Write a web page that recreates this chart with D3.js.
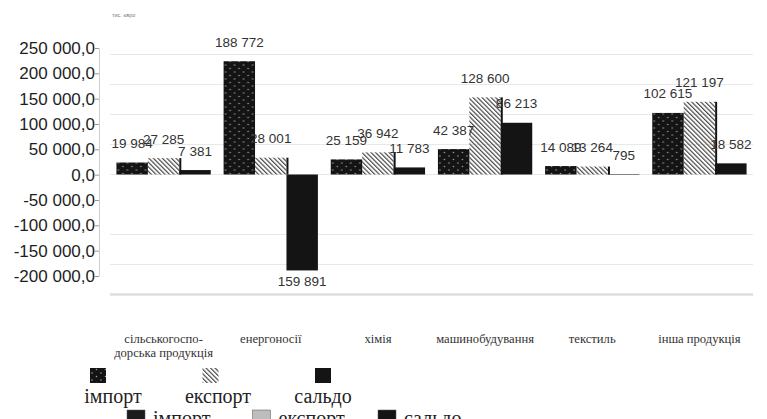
<!DOCTYPE html>
<html><head><meta charset="utf-8">
<script src="https://cdn.jsdelivr.net/npm/d3@7"></script>
<style>html,body{margin:0;padding:0;background:#fff;overflow:hidden}</style>
</head><body>
<svg id="c" width="767" height="419"></svg>
<script>
const categories = ["сільськогоспо-|дорська продукція","енергоносії","хімія","машинобудування","текстиль","інша продукція"];
const importVals = [19984, 188772, 25159, 42387, 14089, 102615];
const exportVals = [27285, 28001, 36942, 128600, 13264, 121197];
const saldoVals  = [7381, -159891, 11783, 86213, 795, 18582];
const seriesNames = ["імпорт","експорт","сальдо"];
const yTickVals = [250000,200000,150000,100000,50000,0,-50000,-100000,-150000,-200000];
const gridVals = [200000,150000,100000,50000,0,-100000,-150000,-200000];
const unitLabel = "тис. євро";

const svg = d3.select("#c");
const defs = svg.append("defs");
const pImp = defs.append("pattern").attr("id","pImp").attr("patternUnits","userSpaceOnUse").attr("width",9).attr("height",7);
pImp.append("rect").attr("width",9).attr("height",7).attr("fill","#141414");
pImp.append("circle").attr("cx",2).attr("cy",2).attr("r",0.8).attr("fill","#9a9a9a");
pImp.append("circle").attr("cx",6.5).attr("cy",5.5).attr("r",0.8).attr("fill","#9a9a9a");
const pExp = defs.append("pattern").attr("id","pExp").attr("patternUnits","userSpaceOnUse").attr("width",3.2).attr("height",3.2).attr("patternTransform","rotate(-45)");
pExp.append("rect").attr("width",1.2).attr("height",3.2).attr("fill","#4a4a4a");

const fills = ["url(#pImp)","url(#pExp)","#141414"];
const series = [importVals, exportVals, saldoVals];

// scales
const x0 = d3.scaleBand().domain(categories).range([110,753]).paddingInner(0.12).paddingOuter(0.06);
const x1 = d3.scaleBand().domain(seriesNames).range([0, x0.bandwidth()]);
const y = d3.scaleLinear().domain([-200000,200000]).range([294.5,54.5]);
const yLab = d3.scaleLinear().domain([-200000,250000]).range([276,48]);

// unit label
svg.append("text").attr("x",112).attr("y",17).attr("font-family","Liberation Sans").attr("font-size",5.5).attr("fill","#777").text(unitLabel);

// gridlines
svg.append("g").selectAll("line").data(gridVals).join("line")
  .attr("x1",110).attr("x2",753)
  .attr("y1",d=>y(d)).attr("y2",d=>y(d))
  .attr("stroke",d=>d===-200000?"#dedede":"#e8e8e8")
  .attr("stroke-width",d=>d===-200000?2.5:1);

// y axis (label scale)
const fmtAxis = v => (v<0?"-":"") + d3.format(",")(Math.abs(v)).replace(/,/g," ") + ",0";
const ax = svg.append("g").attr("transform","translate(99,0)")
  .call(d3.axisLeft(yLab).tickValues(yTickVals).tickFormat(fmtAxis).tickSize(4).tickSizeOuter(0));
ax.select(".domain").attr("stroke","#cfcfcf");
ax.selectAll(".tick line").attr("stroke","#999");
ax.selectAll(".tick text").attr("font-family","Liberation Sans").attr("font-size",17).attr("fill","#1e1e1e").attr("x",-4);

// bars
const fmtLab = v => d3.format(",")(Math.abs(v)).replace(/,/g," ");
const groups = svg.append("g").selectAll("g").data(categories).join("g")
  .attr("transform",d=>`translate(${x0(d)},0)`);
series.forEach((vals,si)=>{
  groups.append("rect")
    .attr("x",x1(seriesNames[si]))
    .attr("width",x1.bandwidth())
    .attr("y",(d,i)=>y(Math.max(0,vals[i])))
    .attr("height",(d,i)=>Math.abs(y(vals[i])-y(0)))
    .attr("fill",fills[si]);
});
// dark right edge of export bars
groups.append("line")
  .attr("x1",x1("сальдо")+1).attr("x2",x1("сальдо")+1)
  .attr("y1",y(0)).attr("y2",(d,i)=>y(exportVals[i]))
  .attr("stroke","#141414").attr("stroke-width",2);

// value labels
series.forEach((vals,si)=>{
  groups.append("text")
    .attr("x",x1(seriesNames[si])+x1.bandwidth()/2)
    .attr("y",(d,i)=>vals[i]>=0 ? y(vals[i])-14.5 : y(vals[i])+16)
    .attr("text-anchor","middle")
    .attr("font-family","Liberation Sans").attr("font-size",13.5).attr("fill","#333")
    .text((d,i)=>fmtLab(vals[i]));
});

// category labels
const cat = svg.append("g").selectAll("text").data(categories).join("text")
  .attr("x",d=>x0(d)+x0.bandwidth()/2).attr("y",343)
  .attr("text-anchor","middle").attr("font-family","Liberation Serif").attr("font-size",12.6).attr("fill","#333");
cat.each(function(d){
  const parts = d.split("|");
  d3.select(this).selectAll("tspan").data(parts).join("tspan")
    .attr("x",x0(d)+x0.bandwidth()/2).attr("dy",(p,j)=>j?14:0).text(p=>p);
});

// legend
const legBox = svg.append("g");
legBox.selectAll("rect").data(seriesNames).join("rect")
  .attr("x",(d,i)=>90+i*112.5).attr("y",368).attr("width",16).attr("height",15).attr("fill",(d,i)=>fills[i]);
legBox.selectAll("text").data(seriesNames).join("text")
  .attr("x",(d,i)=>113+i*105).attr("y",403).attr("text-anchor","middle")
  .attr("font-family","Liberation Serif").attr("font-size",20).attr("fill","#222").text(d=>d);

// clipped duplicate legend at bottom
const leg2 = svg.append("g").selectAll("g").data(seriesNames).join("g")
  .attr("transform",(d,i)=>`translate(${127+i*125.5},410)`);
leg2.append("rect").attr("width",18).attr("height",12).attr("fill",(d,i)=>["#1c1c1c","#bdbdbd","#141414"][i]).attr("stroke","#555").attr("stroke-width",0.5);
leg2.append("text").attr("x",26).attr("y",15)
  .attr("font-family","Liberation Serif").attr("font-size",20).attr("fill","#222").text(d=>d);
</script>
</body></html>
